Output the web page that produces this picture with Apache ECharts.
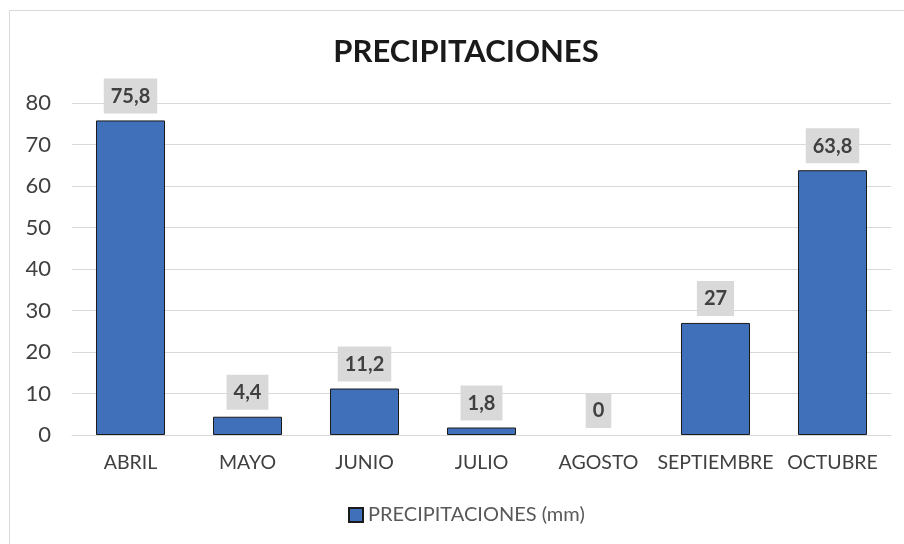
<!DOCTYPE html>
<html>
<head>
<meta charset="utf-8">
<script src="https://cdn.jsdelivr.net/npm/echarts@6/dist/echarts.min.js"></script>
<style>
  html, body { margin: 0; padding: 0; background: #fff; }
  #chart { width: 904px; height: 544px; }
</style>
</head>
<body>
<div id="chart"></div>
<script>
var months = ['ABRIL', 'MAYO', 'JUNIO', 'JULIO', 'AGOSTO', 'SEPTIEMBRE', 'OCTUBRE'];
var rainfall = [75.8, 4.4, 11.2, 1.8, 0, 27, 63.8];
var seriesName = 'PRECIPITACIONES (mm)';

var chart = echarts.init(document.getElementById('chart'));
var font = 'Lato, "Noto Sans", sans-serif';

// no outline on empty bars (Excel doesn't draw one)
var barData = rainfall.map(function (v) {
  return v === 0 ? { value: v, itemStyle: { borderWidth: 0 } } : v;
});

var option = {
  backgroundColor: '#fff',
  animation: false,
  textStyle: { fontFamily: font },
  graphic: [
    {
      type: 'rect',
      shape: { x: 9.5, y: 10.5, width: 900, height: 540 },
      style: { fill: 'none', stroke: '#d9d9d9', lineWidth: 1 },
      silent: true
    }
  ],
  title: {
    text: 'PRECIPITACIONES',
    left: 461,
    top: 31,
    textAlign: 'center',
    textStyle: { fontFamily: font, fontSize: 31, fontWeight: 'bold', color: '#1a1a1a' }
  },
  grid: {
    left: 72,
    right: 13,
    top: 103,
    bottom: 109
  },
  legend: {
    top: 500,
    left: 343,
    itemWidth: 14,
    itemHeight: 14,
    icon: 'rect',
    textStyle: { fontFamily: font, fontSize: 20, color: '#595959' },
    data: [seriesName]
  },
  xAxis: {
    type: 'category',
    data: months,
    axisLine: { show: true, lineStyle: { color: '#d9d9d9' } },
    axisTick: { show: false },
    axisLabel: { fontFamily: font, fontSize: 19.5, color: '#404040', margin: 18, interval: 0 }
  },
  yAxis: {
    type: 'value',
    min: 0,
    max: 80,
    interval: 10,
    axisLine: { show: false },
    axisTick: { show: false },
    axisLabel: { fontFamily: font, fontSize: 22, color: '#404040', margin: 21 },
    splitLine: { lineStyle: { color: '#d9d9d9', width: 1 } }
  },
  series: [
    {
      name: seriesName,
      type: 'bar',
      data: barData,
      barWidth: '59%',
      itemStyle: { color: '#3f70b9', borderColor: '#1a1a1a', borderWidth: 1 },
      label: {
        show: true,
        position: 'top',
        distance: 7,
        formatter: function (p) { return String(p.value).replace('.', ','); },
        fontFamily: font,
        fontSize: 20,
        fontWeight: 'bold',
        color: '#404040',
        backgroundColor: '#d9d9d9',
        padding: [8, 7, 7, 7]
      }
    }
  ]
};

chart.setOption(option);
</script>
</body>
</html>
